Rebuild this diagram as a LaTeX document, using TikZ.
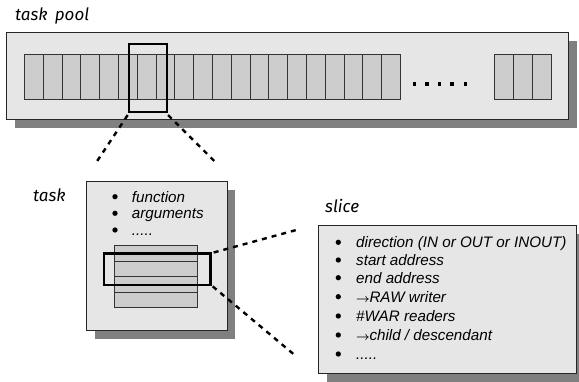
\documentclass[tikz,border=0pt]{standalone}
\usepackage{fontspec}
\setmainfont{Liberation Sans}
\newfontfamily\handfont{Fira Sans}
\definecolor{boxfill}{HTML}{E6E6E6}
\definecolor{cellfill}{HTML}{CCCCCC}
\definecolor{shadowgray}{HTML}{808080}
\definecolor{edgegray}{HTML}{333333}
\newcommand{\fivedots}{.....}
\newcommand{\ptrarrow}{{\fontsize{12}{12}\selectfont\boldmath$\rightarrow$}\kern-0.5pt}
\begin{document}
\begin{tikzpicture}[x=1pt,y=-1pt,
  shadowbox/.style={fill=shadowgray, draw=none, inner sep=0, anchor=north west},
  panel/.style={fill=boxfill, draw=black!85, line width=0.9pt, inner sep=0, anchor=north west},
  cellbox/.style={fill=cellfill, draw=edgegray, line width=0.9pt, inner sep=0, anchor=north west, minimum width=18.8pt, minimum height=45pt},
  focus/.style={draw=black, line width=2.4pt, inner sep=0, anchor=north west},
  zoomline/.style={draw=black, line width=2.4pt, dash pattern=on 5pt off 5pt},
  dotsq/.style={fill=black, inner sep=0, minimum width=3.5pt, minimum height=4pt},
  label/.style={font=\handfont\itshape\fontsize{17}{17}\selectfont, anchor=base west, inner sep=0},
  item/.style={font=\itshape\fontsize{15.2}{16}\selectfont, anchor=base west, inner sep=0},
  bul/.style={circle, fill=black, inner sep=0, minimum size=5.3pt}
]
\useasboundingbox (0,0) rectangle (579,382);

% ---------- task pool ----------
\node[label] (poollabel) at (15,20.7) {task\, pool};
\node[shadowbox, minimum width=562pt, minimum height=87pt] (poolshadow) at (14.5,41) {};
\node[panel, minimum width=562pt, minimum height=87pt] (pool) at (6,32) {};
\foreach \i in {0,...,19}
  \node[cellbox] (c\i) at ({24+18.8*\i},54) {};
\foreach \i in {0,1,2}
  \node[cellbox] (d\i) at ({494.3+18.8*\i},54) {};
\foreach \i/\x in {1/414.3,2/426.9,3/439.5,4/452.1,5/465.7}
  \node[dotsq] (dot\i) at (\x,84) {};
\node[focus, minimum width=38pt, minimum height=68pt] (hl) at (127.7,42.7) {};

% ---------- task ----------
\node[label] (tasklabel) at (33,201.7) {task};
\node[shadowbox, minimum width=140.7pt, minimum height=149.3pt] (taskshadow) at (94.5,189.5) {};
\node[panel, minimum width=140.7pt, minimum height=149.3pt] (task) at (86,180.7) {};
\foreach \n/\y/\t in {1/196.7/{function},2/213.3/{arguments},3/230/{\fivedots}}{
  \node[bul] (tb\n) at (115,\y) {};
  \node[item] (tt\n) at (131.7,{\y+5.4}) {\t};
}
\node[cellbox, minimum width=83pt, minimum height=15.7pt] (s1) at (114.3,245) {};
\node[cellbox, minimum width=83pt, minimum height=15pt] (s2) at (114.3,260.7) {};
\node[cellbox, minimum width=83pt, minimum height=16pt] (s3) at (114.3,275.7) {};
\node[cellbox, minimum width=83pt, minimum height=15pt] (s4) at (114.3,291.7) {};
\node[focus, minimum width=106.8pt, minimum height=31.5pt] (sl) at (102.5,252.5) {};

% ---------- slice ----------
\node[label] (slicelabel) at (325,213) {slice};
\node[shadowbox, minimum width=258pt, minimum height=148.3pt] (sliceshadow) at (326.5,233.7) {};
\node[panel, minimum width=258pt, minimum height=148.3pt] (slice) at (318.3,225) {};
\foreach \n/\y/\t in {1/242.3/{direction (IN or OUT or INOUT)},2/260/{start address},3/277.7/{end address},4/296.7/{\ptrarrow RAW writer},5/316/{\#WAR readers},6/335/{\ptrarrow child / descendant},7/354/{\fivedots}}{
  \node[bul] (sb\n) at (338.3,\y) {};
  \node[item] (st\n) at (356,{\y+5.4}) {\t};
}

% ---------- zoom connectors ----------
\coordinate (z1) at (96.7,161.7);
\coordinate (z2) at (215,161.7);
\coordinate (z3) at (300,229);
\coordinate (z4) at (297,357);
\draw[zoomline] ([yshift=-2pt]hl.south west) -- (z1);
\draw[zoomline] ([yshift=-2pt]hl.south east) -- (z2);
\draw[zoomline] ([xshift=2pt]sl.north east) -- (z3);
\draw[zoomline] ([xshift=1pt]sl.south east) -- (z4);
\end{tikzpicture}
\end{document}
